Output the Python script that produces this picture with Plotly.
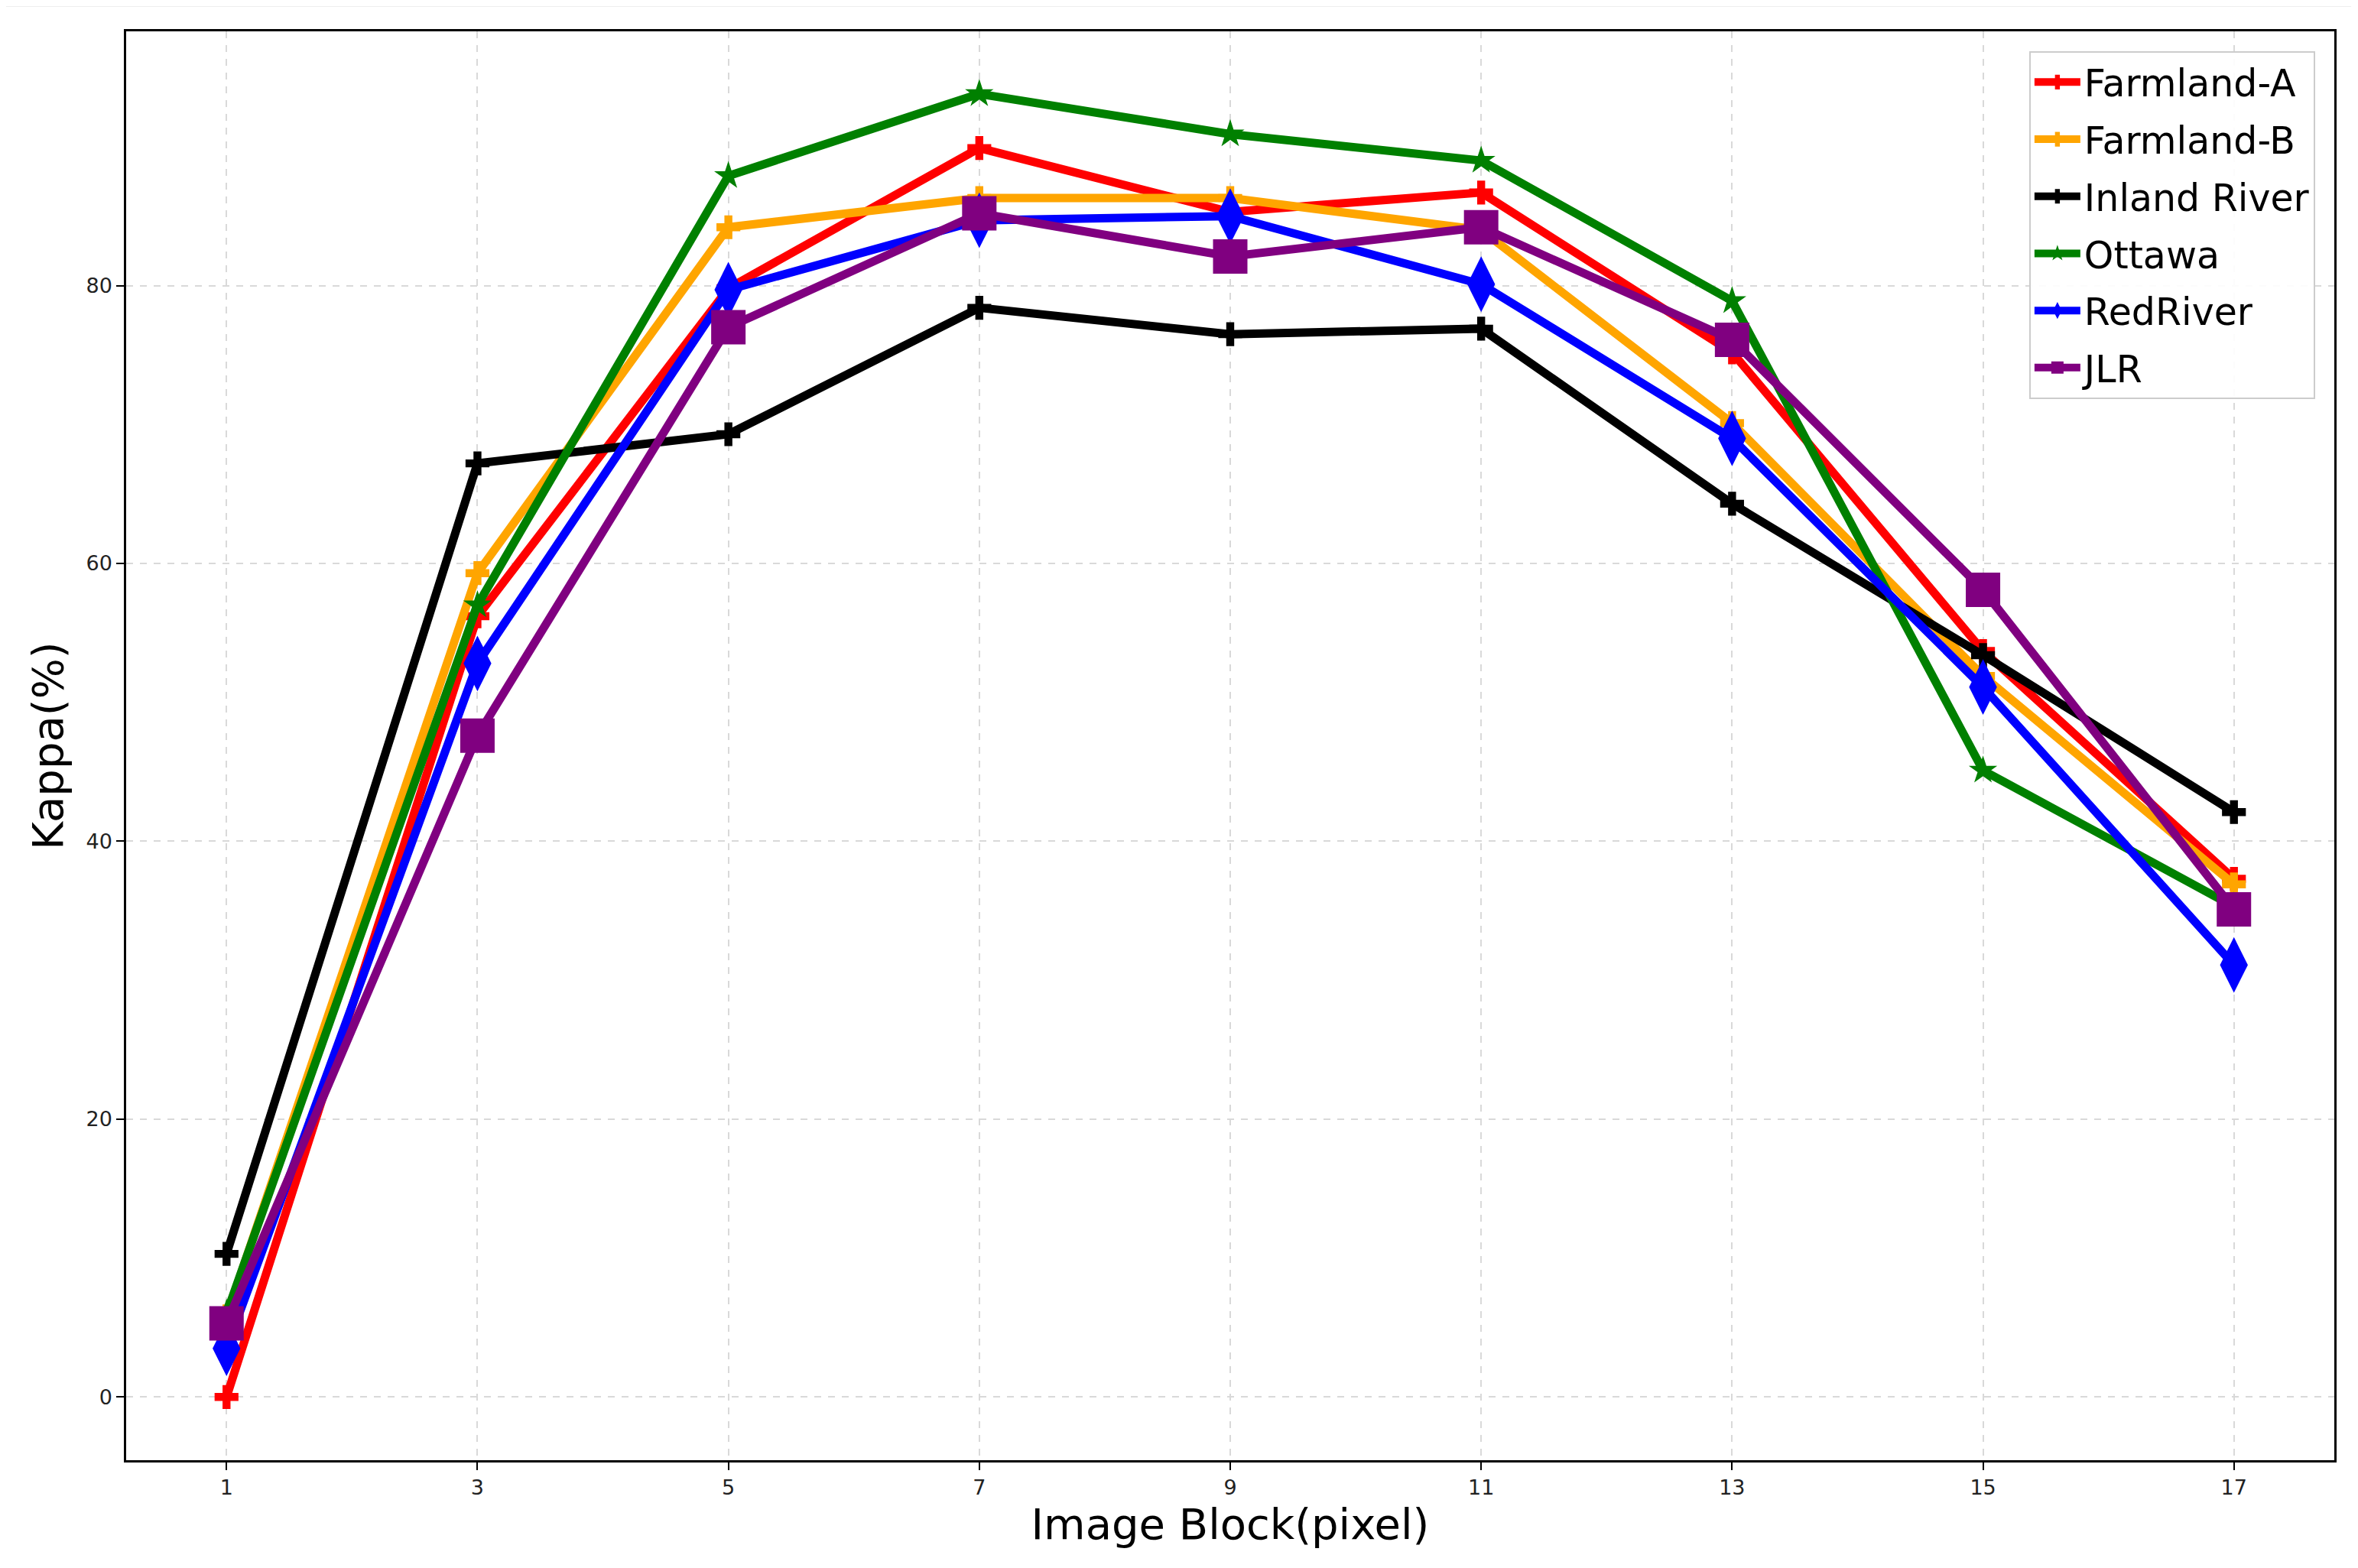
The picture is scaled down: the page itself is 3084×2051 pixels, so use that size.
import plotly.graph_objects as go

block_sizes = [1, 3, 5, 7, 9, 11, 13, 15, 17]
series_names = ["Farmland-A", "Farmland-B", "Inland River", "Ottawa", "RedRiver", "JLR"]
farmland_a = [0.0, 56.2, 79.8, 89.9, 85.3, 86.7, 75.2, 53.7, 37.3]
farmland_b = [5.8, 59.3, 84.2, 86.3, 86.3, 84.0, 70.1, 51.9, 36.9]
inland_river = [10.3, 67.2, 69.3, 78.4, 76.5, 76.9, 64.3, 53.4, 42.1]
ottawa = [6.0, 57.0, 87.9, 93.8, 90.9, 89.0, 78.9, 45.1, 35.3]
red_river = [3.5, 52.8, 79.7, 84.7, 85.0, 80.1, 69.0, 51.1, 31.1]
jlr = [5.3, 47.6, 77.0, 85.2, 82.1, 84.2, 76.1, 58.1, 35.1]
y_ticks = [0, 20, 40, 60, 80]

series_values = [farmland_a, farmland_b, inland_river, ottawa, red_river, jlr]
colors = ["#ff0000", "#ffa500", "#000000", "#008000", "#0000ff", "#800080"]
symbols = ["cross", "cross", "cross", "star", "diamond-tall", "square"]
sizes = [26, 26, 26, 28, 52, 45]

FONT = "DejaVu Sans"
fig = go.Figure()
for name, vals, c, sym, sz in zip(series_names, series_values, colors, symbols, sizes):
    fig.add_trace(go.Scatter(
        x=block_sizes, y=vals, name=name, mode="lines+markers",
        legendgroup=name,
        line=dict(color=c, width=11),
        marker=dict(color=c, symbol=sym, size=sz, line=dict(width=0)),
    ))

axis_common = dict(
    showline=True, linecolor="black", linewidth=2.5, mirror=True,
    ticks="outside", ticklen=10, tickwidth=2, tickcolor="black",
    showgrid=True, gridcolor="#d9d9d9", gridwidth=1.5, griddash="dash",
    zeroline=False,
    tickfont=dict(family=FONT, size=27, color="#222222"),
)

fig.update_xaxes(
    **axis_common, range=[0.2, 17.8], tickmode="array", tickvals=block_sizes,
    ticktext=[str(v) for v in block_sizes],
    title=dict(text="Image Block(pixel)", font=dict(family=FONT, size=56, color="black"), standoff=14),
)
fig.update_yaxes(
    **axis_common, range=[-4.55, 98.3], tickmode="array", tickvals=y_ticks,
    ticktext=[str(v) for v in y_ticks],
    title=dict(text="Kappa(%)", font=dict(family=FONT, size=56, color="black"), standoff=12),
)

fig.update_layout(
    width=3076, height=2043,
    margin=dict(l=157, r=31, t=33, b=141),
    paper_bgcolor="white", plot_bgcolor="white",
    font=dict(family=FONT, color="black"),
    legend=dict(
        x=0.9913, y=0.9861, xanchor="right", yanchor="top",
        bgcolor="rgba(255,255,255,0.9)", bordercolor="#cccccc", borderwidth=2,
        font=dict(family=FONT, size=49, color="black"),
        tracegroupgap=8, itemwidth=60,
    ),
    shapes=[dict(type="line", xref="paper", yref="paper",
                 x0=-0.0544, x1=1.0076, y0=1.0177, y1=1.0177,
                 line=dict(color="#eeeeee", width=2))],
)

fig.write_html("out.html")
